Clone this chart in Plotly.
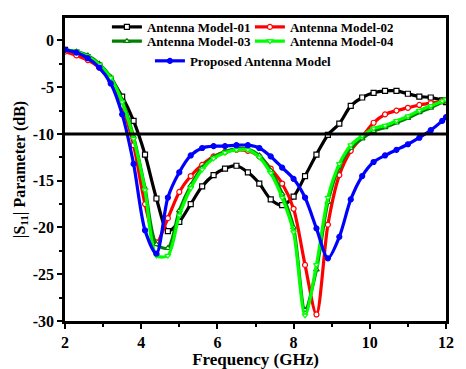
import plotly.graph_objects as go

# frequency grid (GHz), marker positions every 0.3 GHz
freq = [2.0, 2.3, 2.6, 2.9, 3.2, 3.5, 3.8, 4.1, 4.4, 4.7, 5.0, 5.3, 5.6, 5.9,
        6.2, 6.5, 6.8, 7.1, 7.4, 7.7, 8.0, 8.3, 8.6, 8.9, 9.2, 9.5, 9.8, 10.1,
        10.4, 10.7, 11.0, 11.3, 11.6, 11.9, 12.0]

# |S11| (dB)
model_01 = [-1.0, -1.3, -1.8, -2.7, -4.1, -6.0, -8.6, -12.2, -16.9, -20.4, -19.4, -17.5,
            -15.6, -14.4, -13.7, -13.4, -14.1, -15.3, -17.0, -17.6, -16.7, -14.5, -12.2,
            -10.1, -8.9, -7.0, -6.1, -5.6, -5.4, -5.4, -5.7, -6.0, -6.1, -6.4, -6.6]
model_02 = [-1.2, -1.6, -2.1, -2.9, -4.4, -7.0, -11.2, -17.5, -21.6, -19.0, -16.2, -14.5,
            -13.3, -12.4, -11.9, -11.7, -11.8, -12.4, -13.7, -15.3, -18.0, -24.0, -29.3,
            -19.7, -14.4, -11.8, -10.3, -8.8, -7.9, -7.5, -7.2, -6.9, -6.7, -6.5, -6.4]
model_03 = [-1.0, -1.2, -1.6, -2.5, -3.9, -6.4, -10.3, -15.8, -21.8, -22.2, -18.2, -15.5,
            -13.6, -12.5, -11.9, -11.6, -11.6, -12.3, -13.9, -16.4, -20.0, -28.8, -24.5,
            -17.3, -13.5, -11.5, -10.5, -9.7, -9.3, -8.8, -8.3, -7.7, -7.2, -6.6, -6.4]
model_04 = [-1.0, -1.2, -1.7, -2.6, -4.0, -6.6, -10.5, -16.0, -23.0, -23.0, -18.7, -15.8,
            -13.8, -12.6, -12.0, -11.7, -11.7, -12.5, -14.2, -16.8, -20.5, -29.4, -24.0,
            -16.8, -13.2, -11.2, -10.2, -9.4, -9.1, -8.6, -8.1, -7.5, -7.0, -6.5, -6.3]
proposed = [-1.0, -1.3, -1.9, -2.9, -4.6, -7.9, -13.2, -20.3, -22.8, -16.8, -14.1, -12.3,
            -11.5, -11.3, -11.3, -11.2, -11.2, -11.5, -12.4, -13.6, -14.8, -16.8, -20.1,
            -23.3, -21.0, -17.0, -14.5, -13.0, -12.3, -11.7, -11.1, -10.4, -9.6, -8.6, -8.2]

threshold = -10

names = ['Antenna Model-01', 'Antenna Model-02', 'Antenna Model-03',
         'Antenna Model-04', 'Proposed Antenna Model']

font_family = 'Liberation Serif'

fig = go.Figure()

def add_curve(y, name, color, symbol, legend, filled=False):
    fig.add_trace(go.Scatter(
        x=freq, y=y, name=name, mode='lines+markers',
        line=dict(color=color, width=3.2, shape='spline', smoothing=0.8),
        marker=dict(symbol=symbol, size=5,
                    color=color if filled else 'white',
                    line=dict(color=color, width=1.2)),
        legend=legend,
    ))

add_curve(model_01, names[0], 'black', 'square', 'legend')
add_curve(model_02, names[1], '#ff0000', 'circle', 'legend')
add_curve(model_03, names[2], '#008000', 'triangle-up', 'legend2')
add_curve(model_04, names[3], '#00ff00', 'triangle-down', 'legend2')
add_curve(proposed, names[4], '#0000ff', 'circle', 'legend3', filled=True)

# -10 dB reference line
fig.add_hline(y=threshold, line=dict(color='black', width=3))

yticks = [0, -5, -10, -15, -20, -25, -30]
xticks = [2, 4, 6, 8, 10, 12]

axis_common = dict(
    showline=True, mirror=True, linecolor='black', linewidth=2.5,
    ticks='outside', ticklen=5, tickwidth=2, tickcolor='black',
    showgrid=False, zeroline=False, automargin=False,
    tickfont=dict(family=font_family, size=16, color='black', weight='bold'),
)

legend_font = dict(family=font_family, size=13, color='black', weight='bold')
legend_common = dict(orientation='h', bgcolor='rgba(0,0,0,0)', font=legend_font,
                     itemwidth=30, entrywidth=98, entrywidthmode='pixels')

# page is shown with an 8px body offset, so the figure is sized to fit
fig.update_layout(
    width=458, height=361,
    margin=dict(l=57, r=20, t=4, b=48),
    paper_bgcolor='white', plot_bgcolor='white',
    xaxis=dict(
        range=[2, 12], tickvals=xticks, ticktext=[str(v) for v in xticks],
        minor=dict(ticks='outside', ticklen=3, tickwidth=2, tickcolor='black', dtick=1),
        title=dict(text='Frequency (GHz)', standoff=0,
                   font=dict(family=font_family, size=17, color='black', weight='bold')),
        **axis_common),
    yaxis=dict(
        range=[-30, 2.4], tickvals=yticks, ticktext=[str(v) for v in yticks],
        minor=dict(ticks='outside', ticklen=3, tickwidth=2, tickcolor='black', dtick=2.5),
        title=dict(text='|S<sub>11</sub>| Parameter (dB)', standoff=4,
                   font=dict(family=font_family, size=16, color='black', weight='bold')),
        **axis_common),
    legend=dict(x=0.11, y=1.02, xanchor='left', yanchor='top', **legend_common),
    legend2=dict(x=0.11, y=0.973, xanchor='left', yanchor='top', **legend_common),
    legend3=dict(x=0.467, y=0.908, xanchor='center', yanchor='top',
                 orientation='h', bgcolor='rgba(0,0,0,0)', font=legend_font, itemwidth=30),
)

fig.write_html("out.html")
